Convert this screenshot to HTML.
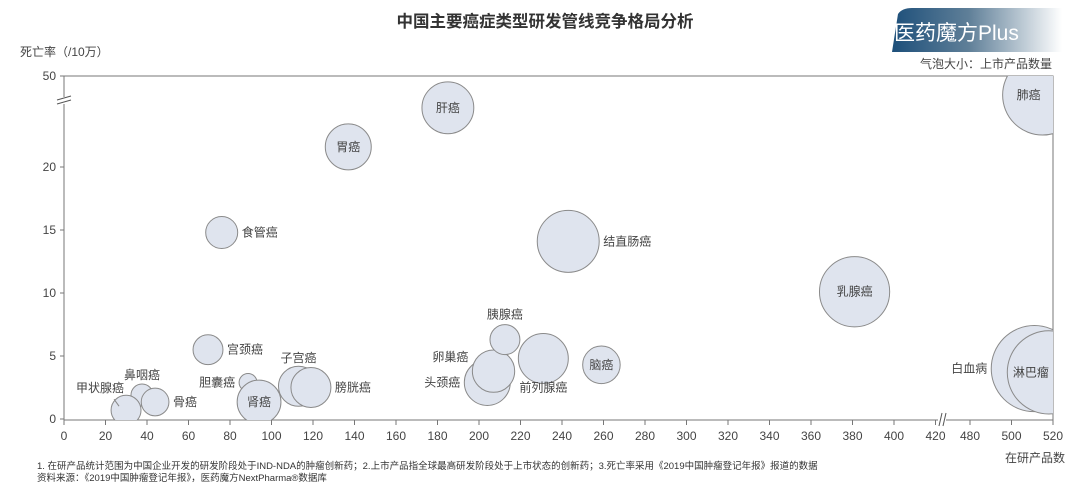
<!DOCTYPE html>
<html><head><meta charset="utf-8">
<style>
html,body{margin:0;padding:0;background:#fff;}
svg{display:block;font-family:"Liberation Sans","Noto Sans CJK SC",sans-serif;}
</style></head>
<body>
<svg id="chart" width="1080" height="487" viewBox="0 0 1080 487" xmlns="http://www.w3.org/2000/svg">
<defs>
<linearGradient id="lg" x1="0" x2="1" y1="0" y2="0">
<stop offset="0" stop-color="#1d4f7a"/><stop offset="0.45" stop-color="#5f7f98"/><stop offset="1" stop-color="#ffffff"/>
</linearGradient>
<clipPath id="plotclip"><rect x="64" y="76" width="989" height="344"/></clipPath>
</defs>
<text x="545" y="27" text-anchor="middle" font-size="16.5" font-weight="bold" fill="#333">中国主要癌症类型研发管线竞争格局分析</text>
<g>
<path d="M898 14 Q902 8 912 8 L1062 8 L1062 52 L892 52 Z" fill="url(#lg)"/>
<text x="894" y="40" font-size="21" fill="#fff">医药魔方Plus</text>
</g>
<text x="20" y="56" font-size="12" fill="#444">死亡率（/10万）</text>
<text x="1052" y="68" text-anchor="end" font-size="12" fill="#444">气泡大小：上市产品数量</text>
<text x="1065" y="462" text-anchor="end" font-size="12" fill="#444">在研产品数</text>
<text x="37" y="469" font-size="9.5" fill="#333">1. 在研产品统计范围为中国企业开发的研发阶段处于IND-NDA的肿瘤创新药；2.上市产品指全球最高研发阶段处于上市状态的创新药；3.死亡率采用《2019中国肿瘤登记年报》报道的数据</text>
<text x="37" y="481" font-size="9.5" fill="#333">资料来源：《2019中国肿瘤登记年报》，医药魔方NextPharma®数据库</text>
<g id="axes"></g>
<g id="bubbles" clip-path="url(#plotclip)"></g>
<g id="labels"></g>
</svg>
<script>
const names = ["肺癌","白血病","淋巴瘤","肝癌","胃癌","食管癌","结直肠癌","乳腺癌","头颈癌","卵巢癌","胰腺癌","前列腺癌","脑癌","宫颈癌","胆囊癌","肾癌","子宫癌","膀胱癌","鼻咽癌","骨癌","甲状腺癌"];
const pipeline = [515,511,518,185,137,76,243,381,204,207,212.5,231,259,69.4,88.7,94,113,119,37.6,43.9,29.9];
const mortality = [33,4.0,3.7,24.7,21.6,14.8,14.1,10.1,2.9,3.8,6.3,4.8,4.3,5.5,2.9,1.35,2.6,2.5,1.9,1.35,0.7];
const marketed = [100,116,108,42,33,16,60,77,33,28,14,39,22,14,5,30,25,25,7.6,12,14];
const xTicks = [0,20,40,60,80,100,120,140,160,180,200,220,240,260,280,300,320,340,360,380,400,420,480,500,520];
const yTicks = [0,5,10,15,20];
const yTopTick = 50;
const labelPos = ["in","l","in","in","in","r","r","in","l","l","t","b","in","r","l","in","t","r","t","r","t"];

const NS="http://www.w3.org/2000/svg";
function X(v){ return v<=420 ? 64+v*2.075 : 970+(v-480)*2.075; }
function Y(v){ return v<=25 ? 419-v*12.6 : 104-(v-25)*(28/25); }
function R(n){ return 4*Math.sqrt(n); }
function mk(tag,attrs,parent){const e=document.createElementNS(NS,tag);for(const k in attrs)e.setAttribute(k,attrs[k]);parent.appendChild(e);return e;}

const axes=document.getElementById('axes');
const ax='#777';
let f=mk('path',{d:'M64 76 L1053 76 L1053 420 L64 420 Z',fill:'none',stroke:ax,'stroke-width':1},axes);


let xb=mk('rect',{x:938,y:414,width:8,height:12,fill:'#fff'},axes);


mk('line',{x1:939,y1:426,x2:942,y2:413,stroke:'#555'},axes);
mk('line',{x1:943,y1:426,x2:946,y2:413,stroke:'#555'},axes);
let yb=mk('rect',{x:58,y:97,width:12,height:7,fill:'#fff'},axes);


mk('line',{x1:57,y1:100,x2:71,y2:96,stroke:'#555'},axes);
mk('line',{x1:57,y1:104,x2:71,y2:100,stroke:'#555'},axes);
xTicks.forEach(t=>{
  const x=X(t);
  mk('line',{x1:x,y1:420,x2:x,y2:425,stroke:ax},axes);
  const tx=mk('text',{x:x,y:440,'text-anchor':'middle','font-size':12,fill:'#444'},axes);
  tx.textContent=t;
  
  
});
yTicks.concat([yTopTick]).forEach(t=>{
  const y = t===yTopTick ? 76 : Y(t);
  mk('line',{x1:60,y1:y,x2:64,y2:y,stroke:ax},axes);
  const tx=mk('text',{x:56,y:y+4,'text-anchor':'end','font-size':12,fill:'#444'},axes);
  tx.textContent=t;
  
  
});

const bg=document.getElementById('bubbles'), lg=document.getElementById('labels');
names.forEach((n,i)=>{
  const cx=X(pipeline[i]), cy=Y(mortality[i]), r=R(marketed[i]);
  const c=mk('circle',{cx:cx,cy:cy,r:r,fill:'#dfe4ee',stroke:'#8a8a8a','stroke-width':1},bg);
  
  
  let x=cx,y=cy+4,anchor='middle';
  const p=labelPos[i];
  if(p==='r'){x=cx+r+4;anchor='start';}
  else if(p==='l'){x=cx-r-4;anchor='end';}
  else if(p==='t'){y=cy-r-6;}
  else if(p==='b'){y=cy+r+8;}
  if(i===20){x=cx-26;y=cy-18;mk('line',{x1:cx-12,y1:cy-11,x2:cx-7,y2:cy-4,stroke:'#888'},lg);}
  if(i===18){y=cy-16;}
  if(i===16){y=cy-24;}
  if(i===9){y=cy-10;}
  if(i===0){x=cx-14;}
  if(i===2){x=cx-18;}
  const t=mk('text',{x:x,y:y,'text-anchor':anchor,'font-size':12,fill:'#444'},lg);
  t.textContent=n;
  
  
});
</script>
</body></html>
